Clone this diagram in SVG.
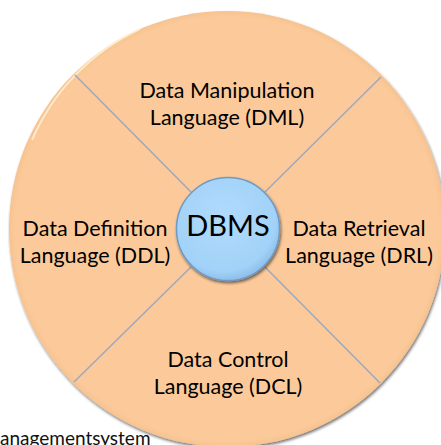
<svg xmlns="http://www.w3.org/2000/svg" width="441" height="445" viewBox="0 0 441 445">
<defs>
  <radialGradient id="peach" cx="0.5" cy="0.5" r="0.5">
    <stop offset="0" stop-color="#FCCA9A"/>
    <stop offset="0.97" stop-color="#FCCA9A"/>
    <stop offset="1" stop-color="#F6C290"/>
  </radialGradient>
  <radialGradient id="blue" cx="0.45" cy="0.4" r="0.6">
    <stop offset="0" stop-color="#B0DBFC"/>
    <stop offset="0.85" stop-color="#A2D2F8"/>
    <stop offset="1" stop-color="#8FC0EA"/>
  </radialGradient>
  <filter id="shadow" x="-10%" y="-10%" width="120%" height="120%">
    <feGaussianBlur in="SourceAlpha" stdDeviation="1.5"/>
    <feOffset dx="1" dy="1.5" result="b"/>
    <feComponentTransfer><feFuncA type="linear" slope="0.55"/></feComponentTransfer>
    <feMerge><feMergeNode/><feMergeNode in="SourceGraphic"/></feMerge>
  </filter>
</defs>
<style>
  .lbl { font-family: Lato, "Liberation Sans", sans-serif; font-size: 21.5px; fill: #000; text-anchor: middle; }
  .div { stroke: #9FA9BC; stroke-width: 1.6; fill: none; }
</style>
<g id="outer">
  <circle cx="227" cy="229" r="218" fill="url(#peach)" filter="url(#shadow)"/>
  <path d="M 32 140 A 218 218 0 0 1 140 29" fill="none" stroke="#FFF2D6" stroke-width="2" opacity="0.8"/>
</g>
<g id="connectors">
  <line class="div" x1="75" y1="75" x2="191" y2="192"/>
  <line class="div" x1="381" y1="77" x2="265" y2="192"/>
  <line class="div" x1="74" y1="382" x2="191" y2="267"/>
  <line class="div" x1="380" y1="383" x2="265" y2="267"/>
</g>
<g id="dml">
  <text class="lbl" x="227" y="98">Data Manipulation</text>
  <text class="lbl" x="227" y="125">Language (DML)</text>
</g>
<g id="ddl">
  <text class="lbl" x="95" y="236">Data Definition</text>
  <text class="lbl" x="95" y="263">Language (DDL)</text>
</g>
<g id="drl">
  <text class="lbl" x="359" y="236">Data Retrieval</text>
  <text class="lbl" x="359" y="263">Language (DRL)</text>
</g>
<g id="dcl">
  <text class="lbl" x="228" y="367">Data Control</text>
  <text class="lbl" x="228" y="394">Language (DCL)</text>
</g>
<g id="dbms">
  <circle cx="228" cy="229" r="51.5" fill="url(#blue)" stroke="#6F9AC6" stroke-width="1.5" filter="url(#shadow)"/>
  <text x="228" y="236" font-family="Lato, 'Liberation Sans', sans-serif" font-size="29" text-anchor="middle" fill="#000">DBMS</text>
</g>
<text x="0" y="445" font-family="Lato, 'Liberation Sans', sans-serif" font-size="19" fill="#111">anagementsystem</text>
</svg>
